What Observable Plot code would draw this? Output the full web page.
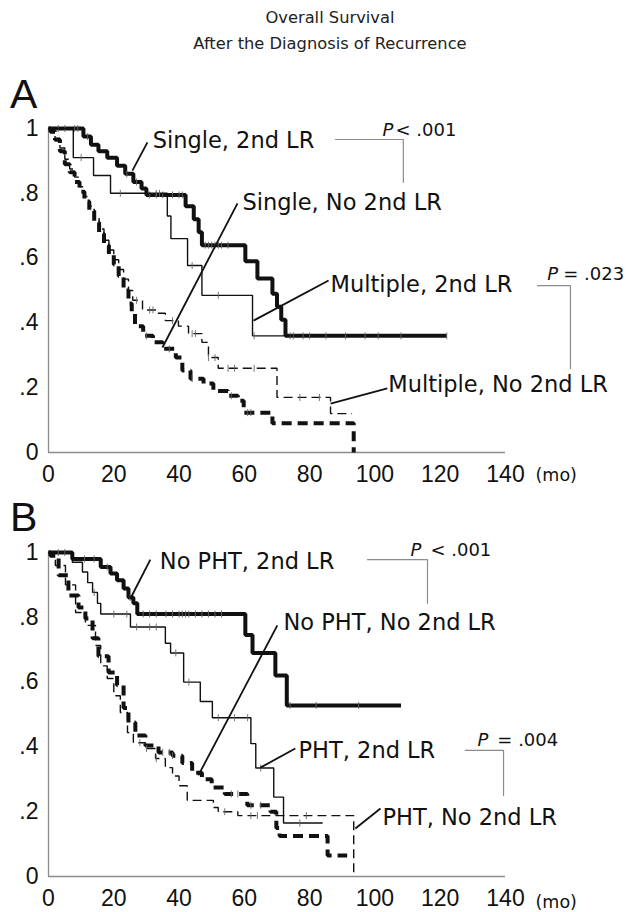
<!DOCTYPE html>
<html><head><meta charset="utf-8">
<script src="https://cdn.jsdelivr.net/npm/d3@7"></script>
<script src="https://cdn.jsdelivr.net/npm/@observablehq/plot@0.6"></script>
<style>
body{margin:0;background:#fff;}
#wrap{position:relative;width:629px;height:912px;overflow:hidden;background:#fff;}
.title{position:absolute;left:0;width:660px;text-align:center;font-family:"DejaVu Sans";font-size:16.3px;line-height:20px;color:#222;}
.letter{position:absolute;font-family:"Liberation Sans";font-size:41px;line-height:41px;color:#111;}
.panel{position:absolute;left:0;}
</style></head><body>
<div id="wrap">
  <div class="title" style="top:8px">Overall Survival</div>
  <div class="title" style="top:34px">After the Diagnosis of Recurrence</div>
  <div class="letter" style="left:10px;top:74px">A</div>
  <div class="letter" style="left:10px;top:497px">B</div>
  <div class="panel" id="pa" style="top:60px"></div>
  <div class="panel" id="pb" style="top:488px"></div>
</div>
<script>
// ---------- axis ticks ----------
const xTicks = [0, 20, 40, 60, 80, 100, 120, 140];
const yTicks = [0, 0.2, 0.4, 0.6, 0.8, 1];
const yTickLabels = ["0", ".2", ".4", ".6", ".8", "1"];

// ---------- Panel A: survival steps (months, proportion) ----------
const aSingle2ndT = [0, 10.7, 13, 15.3, 18, 21, 23.5, 26, 28.5, 30, 42, 44.5, 46, 47, 60.3, 64, 68.6, 70, 71.3, 72.6, 122];
const aSingle2ndS = [1, .975, .95, .93, .91, .885, .86, .835, .815, .795, .76, .72, .68, .64, .59, .537, .49, .45, .41, .36, .36];
const aSingle2ndC = [3, 5, 8, 9, 12, 24, 27, 31, 33, 35, 38, 40, 41, 48, 49, 50, 51, 52, 53, 55, 74, 75, 78, 80, 85, 91, 97, 101, 108, 122];

const aMulti2ndT = [0, 7.6, 13.8, 19, 36.4, 37.5, 42.6, 47, 62.5, 75];
const aMulti2ndS = [1, .91, .855, .80, .73, .66, .577, .485, .36, .36];
const aMulti2ndC = [10, 22, 33, 34, 44, 52, 63];

const aSingleNoT = [0, 0.6, 2, 3.5, 5, 6.5, 8, 9.5, 11, 12.5, 14, 15.5, 17, 18.5, 20, 21.5, 23, 24.5, 25.5, 26.5, 29, 32, 35, 39, 41, 43.5, 47.5, 50.5, 55, 58, 59.8, 68.6, 93.5];
const aSingleNoS = [1, .99, .965, .93, .89, .865, .835, .805, .775, .745, .71, .675, .64, .61, .58, .545, .50, .46, .43, .39, .36, .34, .32, .293, .253, .228, .213, .19, .175, .16, .123, .09, 0];
const aSingleNoC = [30, 37, 44, 56, 61, 62];

const aMultiNoT = [0, 0.6, 2, 3.5, 5, 6.5, 8, 9.5, 11, 12.5, 14, 15.5, 17, 18.5, 20, 21.5, 23, 24.5, 25.8, 28.8, 32.8, 35.8, 39.8, 42.9, 47, 49, 52, 70, 86.4, 93];
const aMultiNoS = [1, .99, .97, .94, .905, .875, .85, .82, .79, .76, .725, .69, .655, .625, .595, .565, .535, .50, .47, .44, .43, .407, .39, .367, .34, .293, .26, .17, .12, .12];
const aMultiNoC = [27, 31, 32, 38, 44, 45, 49, 51, 55, 57, 63, 77, 83];

// Panel A annotations (data coordinates)
const aLabels = ["Single, 2nd LR", "Single, No 2nd LR", "Multiple, 2nd LR", "Multiple, No 2nd LR"];
const aLabelX = [31.9, 59.4, 86.4, 104.1];
const aLabelY = [.961, .770, .517, .208];
const aLeadX1 = [30.3, 57.9, 85.8, 103.8];
const aLeadY1 = [.957, .769, .531, .198];
const aLeadX2 = [25.7, 34.9, 62.8, 86.4];
const aLeadY2 = [.870, .324, .407, .151];
const aBracketX = [[87.9, 108.7, 108.7], [149.8, 159.9, 159.9]];
const aBracketY = [[.966, .966, .834], [.515, .515, .259]];
const aPText = ["< .001", "= .023"];
const aPX = [102.3, 152.8];
const aPRestX = [106.3, 157.7];
const aPY = [.995, .549];

// ---------- Panel B ----------
const bNoPht2ndT = [0, 7.3, 16, 19, 21, 23, 24.5, 26, 27.2, 60.3, 62.5, 69.5, 73, 108];
const bNoPht2ndS = [1, .98, .955, .935, .914, .889, .861, .843, .81, .745, .69, .62, .528, .528];
const bNoPht2ndC = [11, 14, 18, 25, 29, 31, 33, 36, 38, 40, 41, 42, 43, 45, 47, 49, 51, 53, 74, 82, 95];

const bPht2ndT = [0, 7.3, 10.4, 12, 13.5, 15, 16, 25.1, 35.8, 37.4, 41.4, 46.5, 50.2, 62, 63.5, 69, 72, 84];
const bPht2ndS = [1, .97, .94, .907, .877, .843, .81, .77, .72, .69, .60, .54, .49, .41, .335, .245, .165, .165];
const bPht2ndC = [3, 5, 14, 20, 24, 27, 31, 33, 39, 43, 52, 57, 61, 65, 77];

const bNoPhtNoT = [0, 0.6, 3.1, 6.1, 9.2, 11.3, 13.5, 15.3, 18.4, 21, 23, 24.5, 26.6, 29.7, 33.7, 38, 41, 44, 47, 50, 54, 60.9, 68, 69.8, 70.8, 85.5, 91.5];
const bNoPhtNoS = [1, .99, .93, .867, .83, .796, .735, .68, .63, .59, .52, .475, .435, .404, .383, .373, .35, .32, .30, .275, .255, .22, .2, .15, .125, .065, .065];
const bNoPhtNoC = [35, 37, 38, 56, 58, 62, 65];

const bPhtNoT = [0, 0.6, 2.1, 5.2, 8.3, 11.3, 14.4, 16, 18, 20, 22, 24.2, 26, 29.7, 32.8, 35.8, 38, 40, 42.5, 50.5, 52, 58, 93.5];
const bPhtNoS = [1, .99, .96, .90, .815, .775, .713, .65, .611, .558, .506, .444, .413, .395, .364, .336, .31, .28, .235, .213, .20, .188, 0];
const bPhtNoC = [28, 30, 33, 54, 62, 64, 79];

const bLabels = ["No PHT, 2nd LR", "No PHT, No 2nd LR", "PHT, 2nd LR", "PHT, No 2nd LR"];
const bLabelX = [34.1, 72, 76.6, 102.3];
const bLabelY = [.972, .782, .389, .182];
const bLeadX1 = [31.2, 70.1, 75.6, 101.7];
const bLeadY1 = [.978, .775, .395, .21];
const bLeadX2 = [25.1, 45.9, 64.9, 94];
const bLeadY2 = [.858, .312, .336, .148];
const bBracketX = [[97.7, 116.1, 116.1], [127.7, 139.4, 139.4]];
const bBracketY = [[.978, .978, .843], [.389, .389, .25]];
const bPText = ["< .001", "= .004"];
const bPX = [110.9, 131.4];
const bPRestX = [117, 137.5];
const bPY = [1.008, .421];

const unitText = "(mo)";

// ---------- helpers ----------
const tickSym = {draw(ctx, size) { const h = Math.sqrt(size / Math.PI); ctx.moveTo(0, -h); ctx.lineTo(0, h); }};
function series(T, S) { return T.map((t, i) => ({t, s: S[i]})); }
function survAt(T, S, t) { let v = S[0]; for (let i = 0; i < T.length; i++) if (T[i] <= t) v = S[i]; return v; }
function censor(T, S, C) { return C.map(t => ({t, s: survAt(T, S, t)})); }

function panel(p) {
  const marks = [
    Plot.ruleY([0], {stroke: "#8c8c8c", strokeWidth: 1.3}),
    Plot.ruleX([0], {stroke: "#8c8c8c", strokeWidth: 1.3})
  ];
  for (const c of p.curves) {
    marks.push(Plot.line(series(c.T, c.S), {x: "t", y: "s", curve: "step-after", stroke: "#111",
      strokeWidth: c.w, strokeDasharray: c.dash, strokeLinecap: "butt", strokeLinejoin: "miter"}));
    marks.push(Plot.dot(censor(c.T, c.S, c.C), {x: "t", y: "s", symbol: tickSym, r: 3.5,
      stroke: "#666", strokeWidth: 0.9, fill: "none"}));
  }
  const leaders = p.lx1.map((v, i) => ({x1: v, y1: p.ly1[i], x2: p.lx2[i], y2: p.ly2[i]}));
  marks.push(Plot.link(leaders, {x1: "x1", y1: "y1", x2: "x2", y2: "y2", stroke: "#111", strokeWidth: 1.8}));
  const br = [];
  p.bx.forEach((xs, k) => xs.forEach((x, j) => br.push({id: k, x, y: p.by[k][j]})));
  marks.push(Plot.line(br, {x: "x", y: "y", z: "id", stroke: "#8c8c8c", strokeWidth: 1.2}));
  const labels = p.labels.map((t, i) => ({t, x: p.lx[i], y: p.ly[i]}));
  marks.push(Plot.text(labels, {x: "x", y: "y", text: "t", textAnchor: "start", fontFamily: "DejaVu Sans",
    fontSize: 22.5, fill: "#111"}));
  const pit = p.px.map((x, i) => ({x, y: p.py[i], t: "P"}));
  marks.push(Plot.text(pit, {x: "x", y: "y", text: "t", textAnchor: "start", fontFamily: "DejaVu Sans",
    fontStyle: "italic", fontSize: 18, fill: "#111"}));
  const prest = p.prx.map((x, i) => ({x, y: p.py[i], t: p.ptext[i]}));
  marks.push(Plot.text(prest, {x: "x", y: "y", text: "t", textAnchor: "start", fontFamily: "DejaVu Sans",
    fontSize: 18, fill: "#111"}));
  marks.push(Plot.text([{t: unitText, x: 149.2, y: p.unitY}], {x: "x", y: "y", text: "t", textAnchor: "start",
    fontFamily: "DejaVu Sans", fontSize: 17.5, fill: "#111"}));
  return Plot.plot({
    width: 629, height: p.height,
    marginLeft: 48, marginRight: 124, marginTop: p.mt, marginBottom: p.mb,
    x: {domain: [0, 140], ticks: xTicks, tickFormat: d => String(d), tickSize: 0, tickPadding: 13, label: null},
    y: {domain: [0, 1], ticks: yTicks, tickFormat: d => yTickLabels[yTicks.indexOf(d)], tickSize: 0, tickPadding: 10, label: null},
    style: {fontFamily: "Liberation Sans", fontSize: "23px", color: "#111", background: "transparent", overflow: "visible"},
    marks
  });
}

const pa = panel({
  height: 425, mt: 68, mb: 33, unitY: -0.072,
  curves: [
    {T: aSingle2ndT, S: aSingle2ndS, C: aSingle2ndC, w: 4, dash: null},
    {T: aMulti2ndT, S: aMulti2ndS, C: aMulti2ndC, w: 1.4, dash: null},
    {T: aSingleNoT, S: aSingleNoS, C: aSingleNoC, w: 4, dash: "10,6"},
    {T: aMultiNoT, S: aMultiNoS, C: aMultiNoC, w: 1.4, dash: "9,5"}
  ],
  labels: aLabels, lx: aLabelX, ly: aLabelY,
  lx1: aLeadX1, ly1: aLeadY1, lx2: aLeadX2, ly2: aLeadY2,
  bx: aBracketX, by: aBracketY, ptext: aPText, px: aPX, prx: aPRestX, py: aPY
});
document.getElementById("pa").appendChild(pa);

const pb = panel({
  height: 424, mt: 64, mb: 36, unitY: -0.08,
  curves: [
    {T: bNoPht2ndT, S: bNoPht2ndS, C: bNoPht2ndC, w: 4, dash: null},
    {T: bPht2ndT, S: bPht2ndS, C: bPht2ndC, w: 1.4, dash: null},
    {T: bNoPhtNoT, S: bNoPhtNoS, C: bNoPhtNoC, w: 4, dash: "10,6"},
    {T: bPhtNoT, S: bPhtNoS, C: bPhtNoC, w: 1.4, dash: "9,5"}
  ],
  labels: bLabels, lx: bLabelX, ly: bLabelY,
  lx1: bLeadX1, ly1: bLeadY1, lx2: bLeadX2, ly2: bLeadY2,
  bx: bBracketX, by: bBracketY, ptext: bPText, px: bPX, prx: bPRestX, py: bPY
});
document.getElementById("pb").appendChild(pb);
</script>
</body></html>
